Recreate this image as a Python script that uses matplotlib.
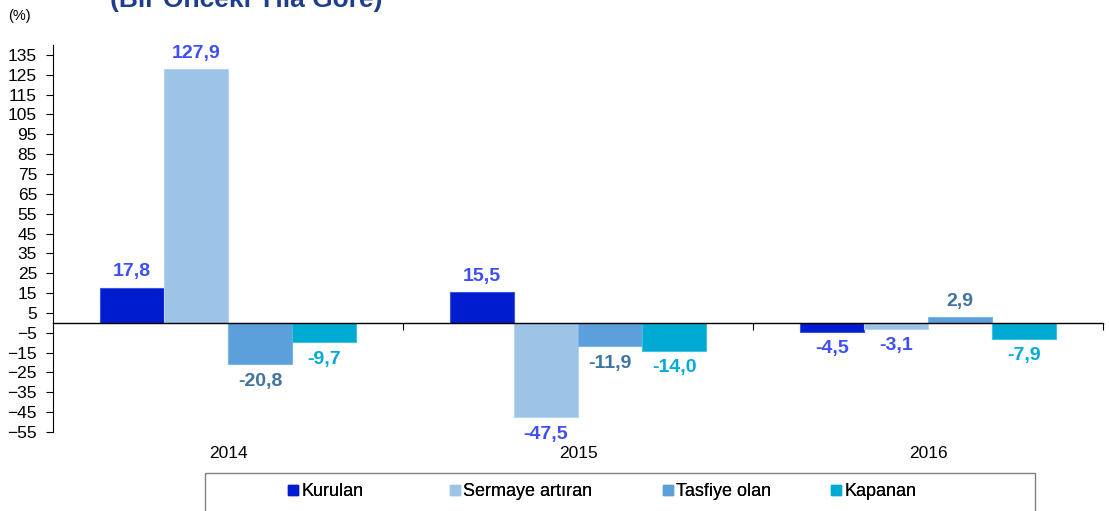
import numpy as np
import matplotlib.pyplot as plt
from matplotlib.lines import Line2D
from matplotlib.patches import Rectangle
from matplotlib.transforms import blended_transform_factory, offset_copy

plt.rcParams['font.family'] = ['Liberation Sans', 'DejaVu Sans']

# data
years = ['2014', '2015', '2016']
series = ['Kurulan', 'Sermaye artıran', 'Tasfiye olan', 'Kapanan']
kurulan = [17.8, 15.5, -4.5]
sermaye = [127.9, -47.5, -3.1]
tasfiye = [-20.8, -11.9, 2.9]
kapanan = [-9.7, -14.0, -7.9]
yticks = list(range(-55, 136, 10))

values = [kurulan, sermaye, tasfiye, kapanan]
bar_colors = ['#001ccf', '#9dc3e6', '#5ba0da', '#00aad2']
edge_colors = ['#3a55e0', '#b8d5ef', '#7fb5e3', '#40c0e0']
label_colors = ['#3d4ff5', '#3d4ff5', '#3e73a3', '#00aad8']

fig = plt.figure(figsize=(11.09, 5.11), dpi=100)
ax = fig.add_axes([53 / 1109, 79 / 511, 1050 / 1109, 387 / 511])

x = np.arange(len(years))
w = 0.183
for i, (vals, c, ec, lc) in enumerate(zip(values, bar_colors, edge_colors, label_colors)):
    pos = x + (i - 1.5) * w
    ax.bar(pos, vals, width=w, color=c, edgecolor=ec, linewidth=0.8, zorder=2)
    for p, v in zip(pos, vals):
        dy = 16 if v > 0 else -17
        tr = offset_copy(ax.transData, fig=fig, x=0, y=dy, units='dots')
        ax.text(p, v, f'{v:.1f}'.replace('.', ','), transform=tr, ha='center',
                va='center', fontsize=14, fontweight='bold', color=lc)

ax.set_xlim(-0.5, 2.5)
ax.set_ylim(-55, 140)
ax.set_yticks(yticks)
ax.tick_params(axis='y', labelsize=12.5, length=5, width=0.8, pad=6.5, direction='out')

for s in ['top', 'right']:
    ax.spines[s].set_visible(False)
ax.spines['bottom'].set_position(('data', 0))
ax.spines['bottom'].set_linewidth(1.0)
ax.spines['left'].set_linewidth(0.8)
ax.spines['left'].set_bounds(-55, 140)
ax.set_xticks([0.5, 1.5, 2.5])
ax.set_xticklabels([])
ax.tick_params(axis='x', length=5, width=0.8, direction='out')

btr = blended_transform_factory(ax.transData, ax.transAxes)
for xi, yr in zip(x, years):
    ax.text(xi, -0.055, yr, transform=btr, ha='center', va='center', fontsize=12.5)

fig.text(0.007, 0.968, '(%)', fontsize=10.5, ha='left', va='center')
fig.text(0.222, 1 - 7 / 511, '(Bir Önceki Yıla Göre)', fontsize=19, fontweight='bold',
         color='#1f3d8f', ha='center', va='baseline')

fig.patches.append(Rectangle((205 / 1109, -0.05), 830 / 1109, 0.05 + 38 / 511,
                             transform=fig.transFigure, fill=False,
                             edgecolor='#808080', linewidth=1.0))

# one legend per entry so each sits where the reference puts it
legend_x = [286, 448, 661, 829]
for name, c, lx in zip(series, bar_colors, legend_x):
    h = Line2D([], [], marker='s', linestyle='none', markersize=7,
               markerfacecolor=c, markeredgecolor=c)
    leg = fig.legend([h], [name], loc='center left',
                     bbox_to_anchor=(lx / 1109, 1 - 492 / 511), frameon=False,
                     fontsize=13, handletextpad=0.05, handlelength=0.8,
                     borderpad=0, borderaxespad=0)
    fig.add_artist(leg)

fig.savefig('out.png', dpi=100)
